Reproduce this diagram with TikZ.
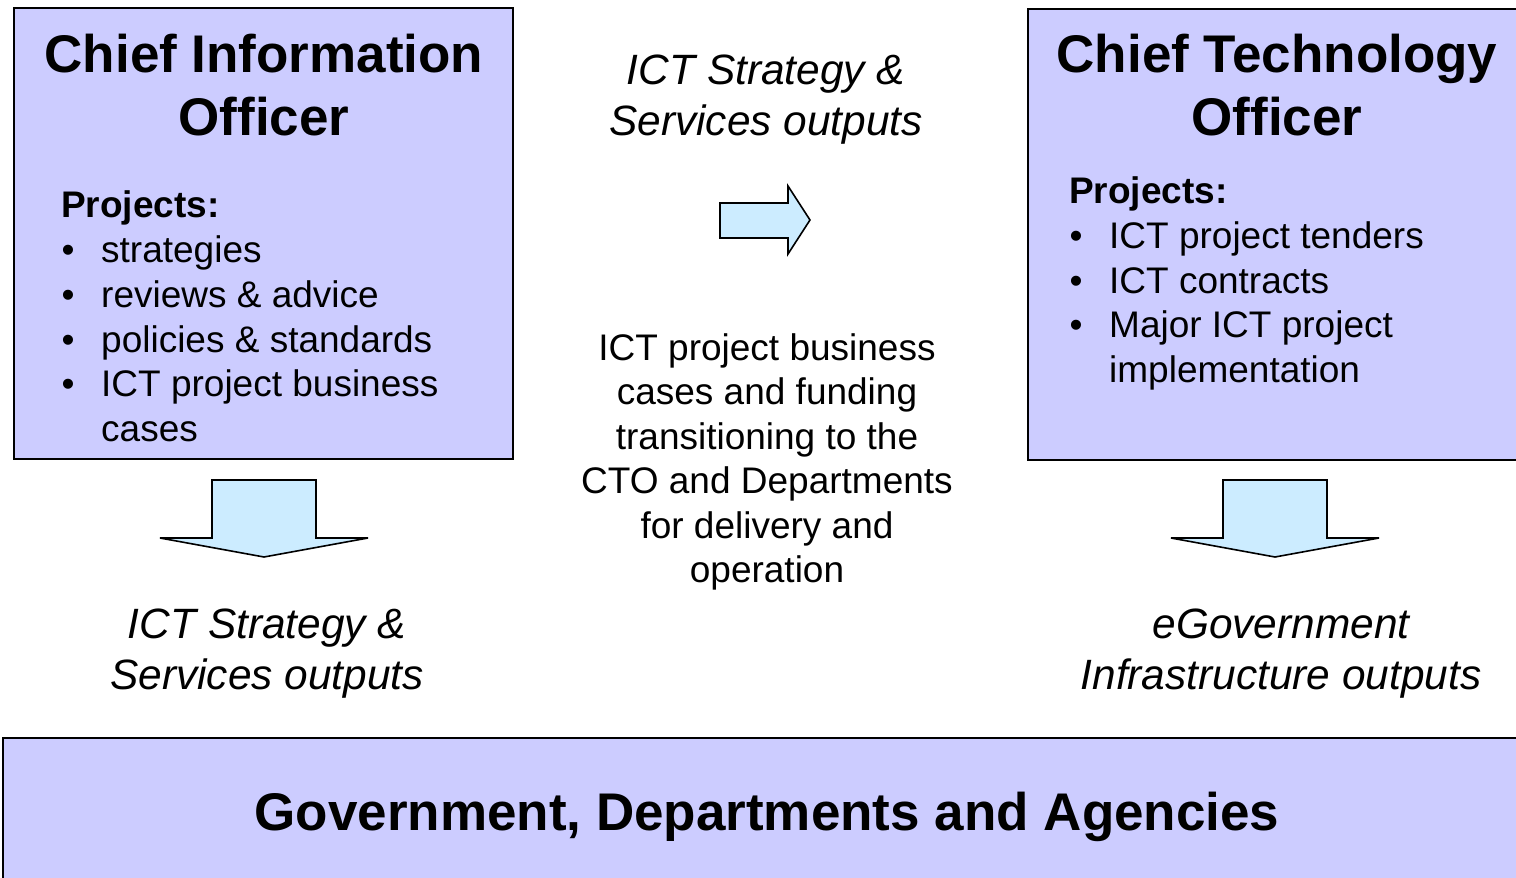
\documentclass[tikz,border=0pt]{standalone}
\usepackage{fontspec}
\setmainfont{Liberation Sans}
\definecolor{boxfill}{HTML}{CCCCFF}
\definecolor{arrowfill}{HTML}{CCECFF}
\tikzset{
  panel/.style={draw=black, line width=1.6pt, fill=boxfill, inner sep=0pt},
  blockarrow/.style={draw=black, line width=1.6pt, fill=arrowfill, line join=miter},
  titletxt/.style={anchor=base, inner sep=0pt, font=\fontsize{53}{64}\selectfont\bfseries},
  headtxt/.style={anchor=base west, inner sep=0pt, font=\fontsize{37}{44}\selectfont\bfseries},
  bodytxt/.style={anchor=base west, inner sep=0pt, font=\fontsize{37}{44}\selectfont},
  bullettxt/.style={anchor=base, inner sep=0pt, font=\fontsize{37}{44}\selectfont},
  midtxt/.style={anchor=base, inner sep=0pt, font=\fontsize{37}{44}\selectfont},
  outtxt/.style={anchor=base, inner sep=0pt, font=\fontsize{42.4}{50}\selectfont\itshape},
}
\begin{document}
\begin{tikzpicture}[x=1pt, y=-1pt]
\useasboundingbox (0,0) rectangle (1516,878);
\clip (0,0) rectangle (1516,878);

% panels
\node[panel, minimum width=499pt, minimum height=451pt] (cio) at (263.5,233.5) {};
\node[panel, minimum width=520pt, minimum height=451pt, anchor=north west] (cto) at (1027,8) {};
\node[panel, minimum width=1540pt, minimum height=170pt, anchor=north west] (gov) at (2,737) {};

% CIO text
\node[titletxt] (cio1) at (264,72) {Chief Information};
\node[titletxt] (cio2) at (264,135) {Officer};
\node[headtxt] (ciop) at (61,217) {Projects:};
\node[bullettxt] (cb1) at (68,262) {•};
\node[bodytxt] (ct1) at (101,262) {strategies};
\node[bullettxt] (cb2) at (68,307) {•};
\node[bodytxt] (ct2) at (101,307) {reviews \& advice};
\node[bullettxt] (cb3) at (68,352) {•};
\node[bodytxt] (ct3) at (101,352) {policies \& standards};
\node[bullettxt] (cb4) at (68,396) {•};
\node[bodytxt] (ct4) at (101,396) {ICT project business};
\node[bodytxt] (ct5) at (101,441) {cases};

% CTO text
\node[titletxt] (cto1) at (1277,72) {Chief Technology};
\node[titletxt] (cto2) at (1277,135) {Officer};
\node[headtxt] (ctop) at (1069,203) {Projects:};
\node[bullettxt] (tb1) at (1076,248) {•};
\node[bodytxt] (tt1) at (1109,248) {ICT project tenders};
\node[bullettxt] (tb2) at (1076,293) {•};
\node[bodytxt] (tt2) at (1109,293) {ICT contracts};
\node[bullettxt] (tb3) at (1076,337) {•};
\node[bodytxt] (tt3) at (1109,337) {Major ICT project};
\node[bodytxt] (tt4) at (1109,382) {implementation};

% top middle outputs
\node[outtxt] (mo1) at (766,84) {ICT Strategy \&};
\node[outtxt] (mo2) at (766,135) {Services outputs};

% right block arrow
\draw[blockarrow] (720,203) -- (788,203) -- (788,186) -- (810,220) -- (788,254) -- (788,238) -- (720,238) -- cycle;

% middle text
\node[midtxt] (m1) at (767,360) {ICT project business};
\node[midtxt] (m2) at (767,404) {cases and funding};
\node[midtxt] (m3) at (767,449) {transitioning to the};
\node[midtxt] (m4) at (767,493) {CTO and Departments};
\node[midtxt] (m5) at (767,538) {for delivery and};
\node[midtxt] (m6) at (767,582) {operation};

% down block arrows
\draw[blockarrow] (212,480) -- (316,480) -- (316,538) -- (368,538) -- (264,557) -- (160,538) -- (212,538) -- cycle;
\draw[blockarrow] (1223,480) -- (1327,480) -- (1327,538) -- (1379,538) -- (1275,557) -- (1171,538) -- (1223,538) -- cycle;

% bottom outputs
\node[outtxt] (lo1) at (267,638) {ICT Strategy \&};
\node[outtxt] (lo2) at (267,689) {Services outputs};
\node[outtxt] (ro1) at (1281,638) {eGovernment};
\node[outtxt] (ro2) at (1281,689) {Infrastructure outputs};

% government
\node[titletxt] (govt) at (767,830) {Government, Departments and Agencies};
\end{tikzpicture}
\end{document}
